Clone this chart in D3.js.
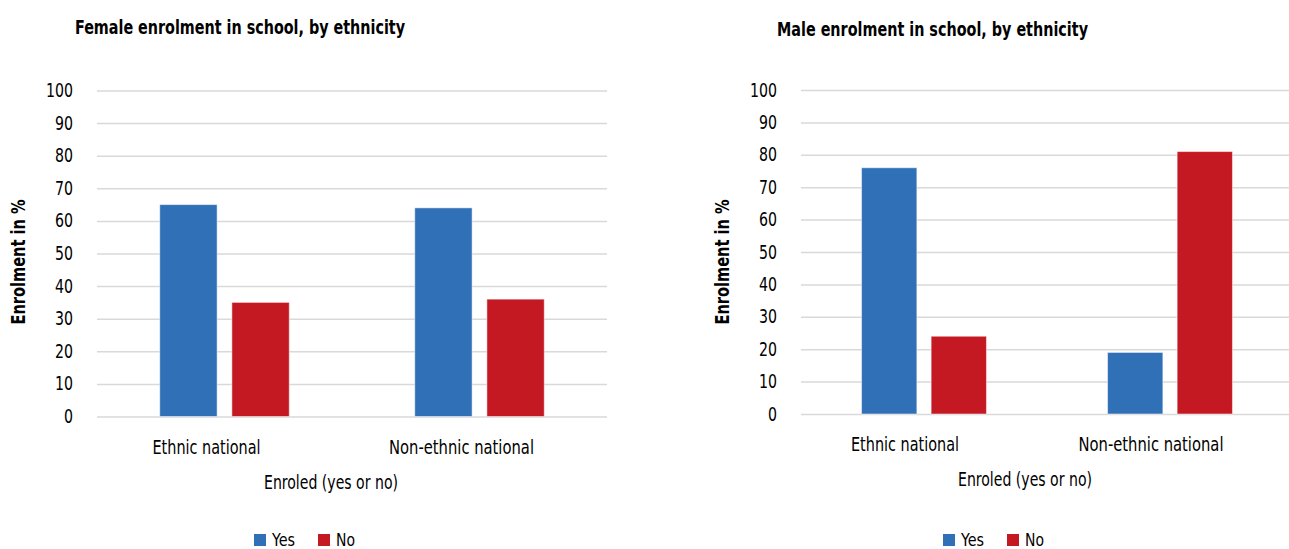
<!DOCTYPE html>
<html>
<head>
<meta charset="utf-8">
<script src="https://cdn.jsdelivr.net/npm/d3@7"></script>
<style>
  body { margin: 0; background: #fff; }
  svg text { font-family: "Liberation Sans Narrow", "DejaVu Sans Condensed", sans-serif; fill: #000; }
</style>
</head>
<body>
<div id="chart"></div>
<script>
// categories and series
const categories = ["Ethnic national", "Non-ethnic national"];
const seriesNames = ["Yes", "No"];
const femaleYes = [65, 64];
const femaleNo = [35, 36];
const maleYes = [76, 19];
const maleNo = [24, 81];
const yTicks = [0, 10, 20, 30, 40, 50, 60, 70, 80, 90, 100];

const colors = { Yes: "#3070B7", No: "#C41922" };

// widths of the condensed labels in the original, squeezed to fit
const labelWidth = {
    "Ethnic national": 108,
    "Non-ethnic national": 145,
    "Enroled (yes or no)": 134,
    "Enrolment in %": 125,
    "Yes": 23,
    "No": 19
};

const svg = d3.select("#chart").append("svg")
    .attr("width", 1289)
    .attr("height", 549);

// panel layout
const panels = [
    {
        title: "Female enrolment in school, by ethnicity", titleW: 330,
        yes: femaleYes, no: femaleNo,
        left: 97, right: 607, top: 90.5, bottom: 416.5,
        titleX: 75, titleY: 34,
        yTitleX: 25, yTitleY: 262, xTitleX: 331, legendX: 254, catShift: -18
    },
    {
        title: "Male enrolment in school, by ethnicity", titleW: 311,
        yes: maleYes, no: maleNo,
        left: 801, right: 1293, top: 90, bottom: 414,
        titleX: 777, titleY: 36,
        yTitleX: 729, yTitleY: 262, xTitleX: 1025, legendX: 943, catShift: -19
    }
];

panels.forEach(p => {
    const g = svg.append("g");

    const x = d3.scaleBand()
        .domain(categories)
        .range([p.left, p.right]);

    const xInner = d3.scaleBand()
        .domain(seriesNames)
        .range([0, x.bandwidth()])
        .paddingInner(0.205)
        .paddingOuter(0.87);

    const y = d3.scaleLinear()
        .domain([0, 100])
        .range([p.bottom, p.top]);

    // gridlines + tick labels
    const yAxis = d3.axisLeft(y)
        .tickValues(yTicks)
        .tickSize(-(p.right - p.left))
        .tickPadding(24);

    const ax = g.append("g")
        .attr("transform", `translate(${p.left},0)`)
        .call(yAxis);
    ax.select(".domain").remove();
    ax.selectAll(".tick line")
        .attr("stroke", "#d9d9d9")
        .attr("stroke-width", 1.5);
    ax.selectAll(".tick text")
        .style("font-size", "19px")
        .attr("fill", "#000")
        .attr("textLength", d => String(d).length * 9)
        .attr("lengthAdjust", "spacingAndGlyphs");

    // bars
    const rows = categories.map((c, i) => ({ cat: c, Yes: p.yes[i], No: p.no[i] }));
    const grp = g.selectAll("g.cat")
        .data(rows)
        .enter().append("g")
        .attr("class", "cat")
        .attr("transform", d => `translate(${x(d.cat)},0)`);

    grp.selectAll("rect")
        .data(d => seriesNames.map(s => ({ s, v: d[s] })))
        .enter().append("rect")
        .attr("x", d => xInner(d.s))
        .attr("width", xInner.bandwidth())
        .attr("y", d => y(d.v))
        .attr("height", d => y(0) - y(d.v))
        .attr("fill", d => colors[d.s])
        .attr("stroke", "#ffffff")
        .attr("stroke-opacity", 0.5)
        .attr("stroke-width", 1);

    // category labels (sit a little left of the band centre in the original)
    const xAxis = d3.axisBottom(x).tickSize(0).tickPadding(24);
    const xa = g.append("g")
        .attr("transform", `translate(0,${p.bottom})`)
        .call(xAxis);
    xa.select(".domain").remove();
    xa.selectAll(".tick text")
        .style("font-size", "19px")
        .attr("fill", "#000")
        .attr("dx", p.catShift)
        .attr("textLength", d => labelWidth[d])
        .attr("lengthAdjust", "spacingAndGlyphs");

    // chart title
    g.append("text")
        .attr("x", p.titleX)
        .attr("y", p.titleY)
        .style("font-size", "19px")
        .style("font-weight", "bold")
        .attr("textLength", p.titleW)
        .attr("lengthAdjust", "spacingAndGlyphs")
        .text(p.title);

    // y axis title
    g.append("text")
        .attr("transform", `translate(${p.yTitleX},${p.yTitleY}) rotate(-90)`)
        .attr("text-anchor", "middle")
        .style("font-size", "19px")
        .style("font-weight", "bold")
        .attr("textLength", labelWidth["Enrolment in %"])
        .attr("lengthAdjust", "spacingAndGlyphs")
        .text("Enrolment in %");

    // x axis title
    g.append("text")
        .attr("x", p.xTitleX)
        .attr("y", p.bottom + 72)
        .attr("text-anchor", "middle")
        .style("font-size", "19px")
        .attr("textLength", labelWidth["Enroled (yes or no)"])
        .attr("lengthAdjust", "spacingAndGlyphs")
        .text("Enroled (yes or no)");

    // legend
    const leg = g.append("g")
        .attr("transform", `translate(${p.legendX},534)`);
    seriesNames.forEach((s, i) => {
        const lx = i * 64;
        leg.append("rect")
            .attr("x", lx)
            .attr("y", 0)
            .attr("width", 12)
            .attr("height", 12)
            .attr("fill", colors[s]);
        leg.append("text")
            .attr("x", lx + 18)
            .attr("y", 12)
            .style("font-size", "18px")
            .attr("textLength", labelWidth[s])
            .attr("lengthAdjust", "spacingAndGlyphs")
            .text(s);
    });
});
</script>
</body>
</html>
